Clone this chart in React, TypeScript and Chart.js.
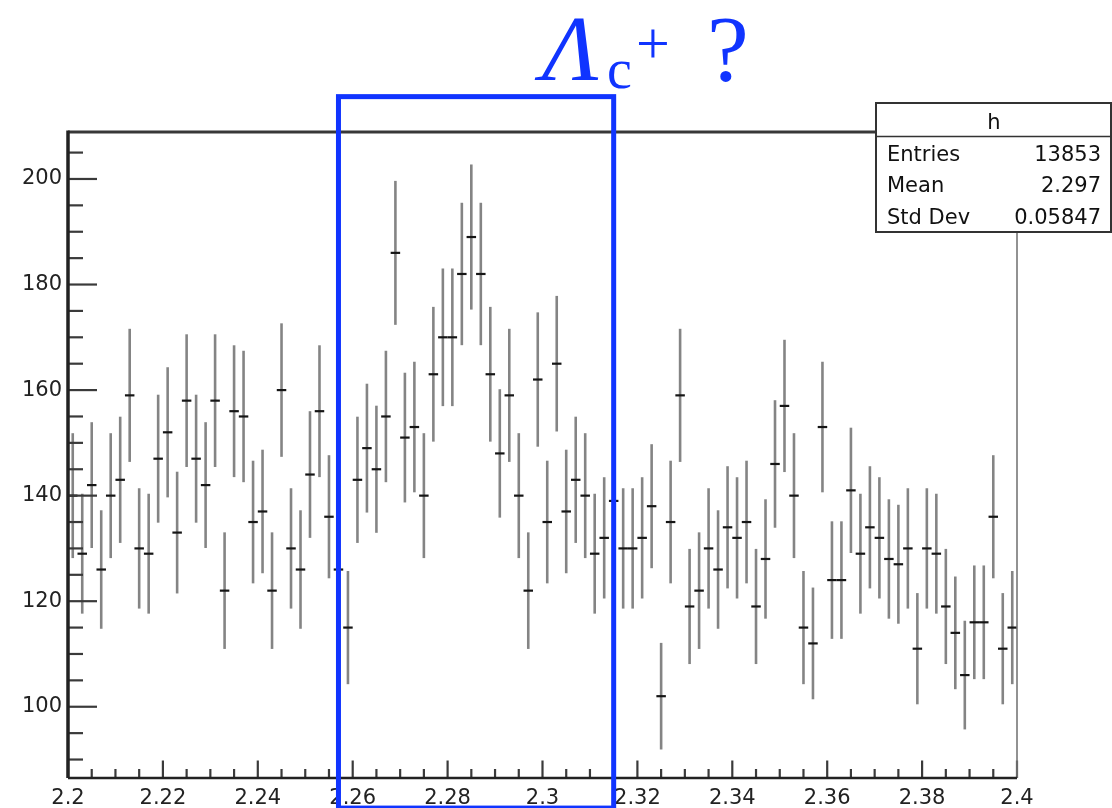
import React, { useEffect, useRef } from 'react';
import { Chart, registerables } from 'chart.js';

Chart.register(...registerables);

// ---- data ----
const xLow = 2.2;
const xHigh = 2.4;
const binWidth = 0.002;
const counts = [
  140, 129, 142, 126, 140, 143, 159, 130, 129, 147,
  152, 133, 158, 147, 142, 158, 122, 156, 155, 135,
  137, 122, 160, 130, 126, 144, 156, 136, 126, 115,
  143, 149, 145, 155, 186, 151, 153, 140, 163, 170,
  170, 182, 189, 182, 163, 148, 159, 140, 122, 162,
  135, 165, 137, 143, 140, 129, 132, 139, 130, 130,
  132, 138, 102, 135, 159, 119, 122, 130, 126, 134,
  132, 135, 119, 128, 146, 157, 140, 115, 112, 153,
  124, 124, 141, 129, 134, 132, 128, 127, 130, 111,
  130, 129, 119, 114, 106, 116, 116, 136, 111, 115,
];
const xTickLabels = [2.2, 2.22, 2.24, 2.26, 2.28, 2.3, 2.32, 2.34, 2.36, 2.38, 2.4];
const yTickLabels = [100, 120, 140, 160, 180, 200];
const yMin = 86.5;
const yMax = 208.9;
const statsTitle = 'h';
const statsLabels = ['Entries', 'Mean', 'Std Dev'];
const statsValues = ['13853', '2.297', '0.05847'];
const highlightX = [2.257, 2.315];
const highlightY = [80.8, 215.6];

const BLUE = 'rgb(16, 52, 255)';

export default function App() {
  const ref = useRef<HTMLCanvasElement>(null);

  useEffect(() => {
    if (!ref.current) return;
    const points = counts.map((c, i) => ({ x: xLow + (i + 0.5) * binWidth, y: c }));

    const errorBars = {
      id: 'errorBars',
      beforeDatasetsDraw(chart: any) {
        const { ctx, scales } = chart;
        const xs = scales.x;
        const ys = scales.y;
        ctx.save();
        ctx.strokeStyle = 'rgba(85,85,85,0.72)';
        ctx.lineWidth = 2.6;
        ctx.lineCap = 'butt';
        points.forEach((p) => {
          const e = Math.sqrt(p.y);
          const px = xs.getPixelForValue(p.x);
          ctx.beginPath();
          ctx.moveTo(px, ys.getPixelForValue(p.y - e));
          ctx.lineTo(px, ys.getPixelForValue(p.y + e));
          ctx.stroke();
        });
        ctx.restore();
      },
    };

    const decorations = {
      id: 'decorations',
      afterDraw(chart: any) {
        const { ctx, chartArea, scales } = chart;
        const { left, right, top, bottom } = chartArea;
        const xs = scales.x;
        const ys = scales.y;
        ctx.save();
        // ticks inside the frame
        ctx.strokeStyle = '#3a3a3a';
        ctx.lineWidth = 2.2;
        for (let k = 0; k <= 40; k++) {
          const v = xLow + k * 0.005;
          const px = xs.getPixelForValue(v);
          const len = k % 4 === 0 ? 17.5 : 9;
          ctx.beginPath();
          ctx.moveTo(px, bottom);
          ctx.lineTo(px, bottom - len);
          ctx.stroke();
        }
        for (let v = 90; v <= 205; v += 5) {
          const py = ys.getPixelForValue(v);
          const len = v % 20 === 0 ? 29 : 15;
          ctx.beginPath();
          ctx.moveTo(left, py);
          ctx.lineTo(left + len, py);
          ctx.stroke();
        }
        // frame
        ctx.strokeStyle = '#383838';
        ctx.lineWidth = 3;
        ctx.beginPath();
        ctx.moveTo(left, top);
        ctx.lineTo(right, top);
        ctx.stroke();
        ctx.strokeStyle = '#777';
        ctx.lineWidth = 1.6;
        ctx.beginPath();
        ctx.moveTo(right, top);
        ctx.lineTo(right, bottom);
        ctx.stroke();
        ctx.strokeStyle = '#222';
        ctx.lineWidth = 3.5;
        ctx.beginPath();
        ctx.moveTo(left, top - 1.5);
        ctx.lineTo(left, bottom);
        ctx.stroke();
        ctx.lineWidth = 2.5;
        ctx.beginPath();
        ctx.moveTo(left, bottom);
        ctx.lineTo(right, bottom);
        ctx.stroke();

        // stats box
        const bx = 876, by = 103, bw = 235, bh = 129, div = 136.5;
        ctx.fillStyle = '#fff';
        ctx.fillRect(bx, by, bw, bh);
        ctx.strokeStyle = '#333';
        ctx.lineWidth = 2;
        ctx.strokeRect(bx, by, bw, bh);
        ctx.lineWidth = 1.5;
        ctx.beginPath();
        ctx.moveTo(bx, div);
        ctx.lineTo(bx + bw, div);
        ctx.stroke();
        ctx.fillStyle = '#111';
        ctx.font = '21px "DejaVu Sans"';
        ctx.textBaseline = 'middle';
        ctx.textAlign = 'center';
        ctx.fillText(statsTitle, 994, 124);
        const rowsY = [156, 187, 219];
        statsLabels.forEach((lab, i) => {
          ctx.textAlign = 'left';
          ctx.fillText(lab, 887, rowsY[i]);
          ctx.textAlign = 'right';
          ctx.fillText(statsValues[i], 1101, rowsY[i]);
        });

        // highlight rectangle
        const x0 = xs.getPixelForValue(highlightX[0]);
        const x1 = xs.getPixelForValue(highlightX[1]);
        const y0 = ys.getPixelForValue(highlightY[1]);
        const y1 = ys.getPixelForValue(highlightY[0]);
        ctx.strokeStyle = BLUE;
        ctx.lineWidth = 5;
        ctx.strokeRect(x0, y0, x1 - x0, y1 - y0);

        // annotation text
        ctx.fillStyle = BLUE;
        ctx.textAlign = 'left';
        ctx.textBaseline = 'alphabetic';
        ctx.font = 'italic 94px "Liberation Serif"';
        ctx.fillText('\u039B', 542, 80);
        ctx.font = '56px "Liberation Serif"';
        ctx.fillText('c', 607, 88);
        ctx.font = '60px "Liberation Serif"';
        ctx.fillText('+', 636, 63);
        ctx.font = '94px "Liberation Serif"';
        ctx.fillText('?', 707, 80);
        ctx.restore();
      },
    };

    const chart = new Chart(ref.current, {
      type: 'scatter',
      data: {
        datasets: [
          {
            data: points,
            pointStyle: 'line',
            pointRadius: (c: any) => {
              const s = c.chart.scales.x;
              return Math.abs(s.getPixelForValue(xLow + binWidth) - s.getPixelForValue(xLow)) / 2;
            },
            pointBorderColor: '#151515',
            pointBackgroundColor: '#151515',
            pointBorderWidth: 2.2,
            showLine: false,
          } as any,
        ],
      },
      options: {
        animation: false,
        responsive: false,
        maintainAspectRatio: false,
        devicePixelRatio: 1,
        layout: { padding: { left: 0, top: 132, right: 95, bottom: 0 } },
        plugins: { legend: { display: false }, tooltip: { enabled: false } },
        events: [],
        scales: {
          x: {
            type: 'linear',
            min: xLow,
            max: xHigh,
            afterBuildTicks: (s: any) => {
              s.ticks = xTickLabels.map((v) => ({ value: v }));
            },
            afterFit: (s: any) => {
              s.height = 30;
            },
            ticks: {
              callback: (v: any) => String(Number(Number(v).toFixed(3))),
              font: { family: 'DejaVu Sans', size: 21 },
              color: '#222',
              padding: 8,
              maxRotation: 0,
              autoSkip: false,
            },
            grid: { display: false, drawTicks: false },
            border: { display: false },
          },
          y: {
            type: 'linear',
            min: yMin,
            max: yMax,
            afterBuildTicks: (s: any) => {
              s.ticks = yTickLabels.map((v) => ({ value: v }));
            },
            afterFit: (s: any) => {
              s.width = 68;
            },
            ticks: {
              callback: (v: any) => String(v),
              font: { family: 'DejaVu Sans', size: 21 },
              color: '#222',
              padding: 6,
              autoSkip: false,
            },
            grid: { display: false, drawTicks: false },
            border: { display: false },
          },
        },
      } as any,
      plugins: [errorBars, decorations],
    });
    return () => chart.destroy();
  }, []);

  return (
    <div style={{ position: 'fixed', left: 0, top: 0, width: 1112, height: 808, background: '#fff' }}>
      <canvas ref={ref} width={1112} height={808} style={{ width: 1112, height: 808, display: 'block' }} />
    </div>
  );
}
